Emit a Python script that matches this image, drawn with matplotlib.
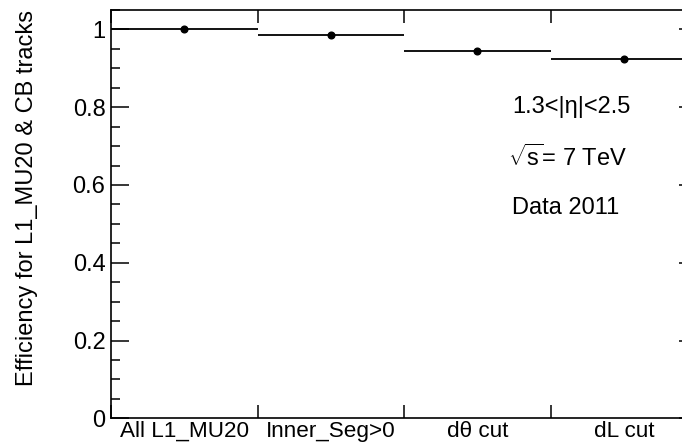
import matplotlib
matplotlib.use("Agg")
import matplotlib.pyplot as plt
from matplotlib.ticker import MultipleLocator, FixedLocator, NullFormatter
import numpy as np

plt.rcParams['font.family'] = ['Liberation Sans', 'DejaVu Sans']
plt.rcParams['mathtext.fontset'] = 'custom'
plt.rcParams['mathtext.rm'] = 'Liberation Sans'
plt.rcParams['mathtext.it'] = 'Liberation Sans'

# Selection steps and efficiency after each step
categories = ["All L1_MU20", "Inner_Seg>0", "d\u03b8 cut", "dL cut"]
efficiency = [1.0, 0.985, 0.944, 0.923]

fig = plt.figure(figsize=(6.82, 4.46), dpi=100)
ax = fig.add_axes([0.1628, 0.0621, 0.8592, 0.9155])

edges = np.arange(len(categories) + 1)
centers = edges[:-1] + 0.5

ax.hlines(efficiency, edges[:-1], edges[1:], color='black', lw=1.3)
ax.plot(centers, efficiency, 'o', color='black', ms=4.8)

ax.set_xlim(0, len(categories))
ax.set_ylim(0, 1.05)

ax.xaxis.set_major_locator(FixedLocator(edges))
ax.xaxis.set_major_formatter(NullFormatter())
ax.xaxis.set_minor_locator(FixedLocator(centers))
ax.set_xticklabels(categories, minor=True)

ax.yaxis.set_minor_locator(MultipleLocator(0.05))
ax.set_yticks([0, 0.2, 0.4, 0.6, 0.8, 1.0])
ax.set_yticklabels(["0", "0.2", "0.4", "0.6", "0.8", "1"])

ax.tick_params(axis='y', which='major', direction='in', length=13, width=1.1,
               left=True, right=True, labelsize=17, pad=4)
ax.tick_params(axis='y', which='minor', direction='in', length=6.5, width=1.1,
               left=True, right=True)
ax.tick_params(axis='x', which='major', direction='in', length=9.5, width=1.1,
               top=True, bottom=True, labelbottom=False)
ax.tick_params(axis='x', which='minor', length=0, labelsize=16.2, pad=2)

for s in ax.spines.values():
    s.set_linewidth(1.2)

ax.set_ylabel("Efficiency for L1_MU20 & CB tracks", fontsize=17)
ax.yaxis.set_label_coords(-0.1246, 0.54)

ax.text(2.737, 0.800, "1.3<|\u03b7|<2.5", fontsize=17, va='center', ha='left')
ax.text(2.71, 0.669, r"$\sqrt{\mathrm{s}}$= 7 TeV", fontsize=17, va='center', ha='left')
ax.text(2.737, 0.541, "Data 2011", fontsize=17, va='center', ha='left')

fig.savefig("out.png", dpi=100)
